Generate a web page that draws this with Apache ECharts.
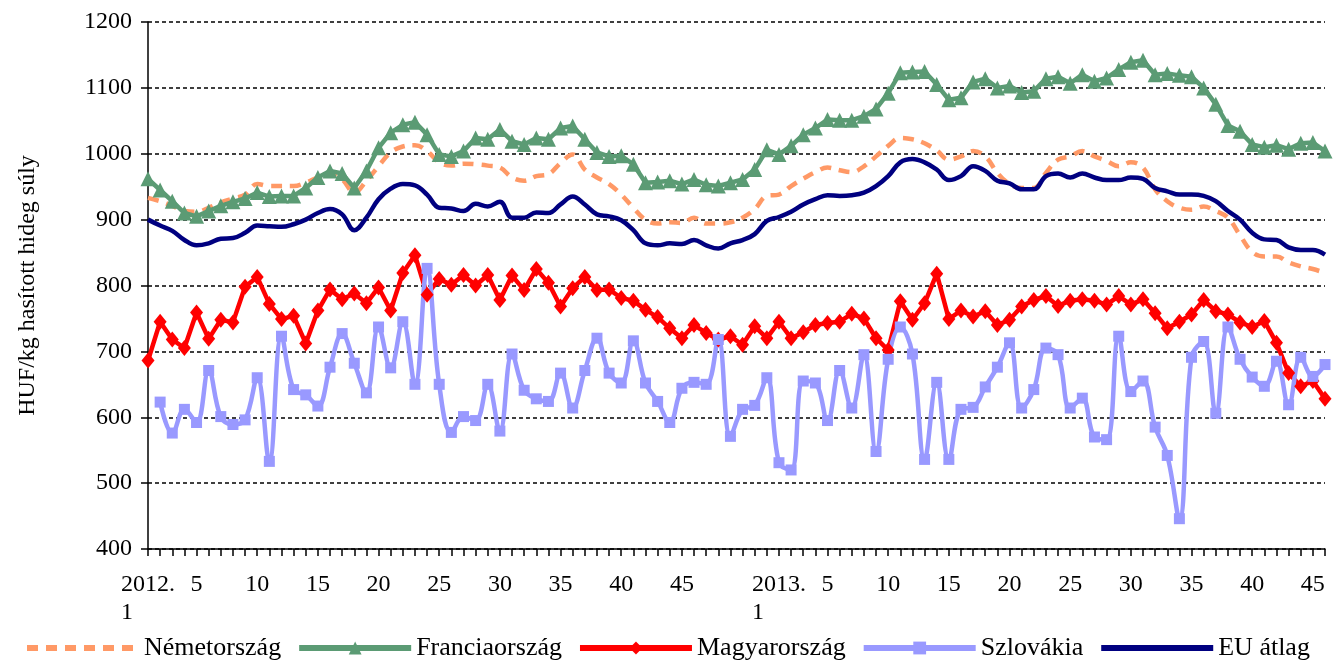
<!DOCTYPE html>
<html>
<head>
<meta charset="utf-8">
<script src="https://cdn.jsdelivr.net/npm/echarts@6/dist/echarts.min.js"></script>
<style>
html,body{margin:0;padding:0;background:#fff;}
#chart{width:1341px;height:662px;}
</style>
</head>
<body>
<div id="chart"></div>
<script>
// Categories: weeks of 2012 (1..52) and 2013 (1..46)
const years = ['2012', '2013'];
const weeksInYear = [52, 46];
const labelWeeks = [1, 5, 10, 15, 20, 25, 30, 35, 40, 45];
const yTicks = [400, 500, 600, 700, 800, 900, 1000, 1100, 1200];

const nemetorszag = [
  933, 928, 921, 913, 912, 918, 926, 932, 938, 954,
  951, 951, 951, 956, 964, 969, 961, 941, 959, 981,
  1002, 1011, 1013, 1004, 987, 982, 985, 984, 982, 979,
  964, 959, 966, 969, 986, 999, 976, 964, 954, 938,
  918, 900, 894, 896, 895, 903, 894, 894, 896, 903,
  916, 936, 938, 951, 962, 972, 979, 975, 972, 981,
  996, 1012, 1024, 1022, 1016, 1005, 991, 996, 1004, 996,
  971, 954, 948, 948, 971, 991, 996, 1004, 996, 989,
  981, 987, 979, 946, 928, 918, 915, 920, 913, 903,
  876, 851, 844, 844, 835, 829, 825, 819
];
const franciaorszag = [
  962, 945, 928, 910, 905, 913, 921, 927, 932, 941,
  935, 936, 936, 948, 964, 974, 970, 948, 974, 1009,
  1032, 1044, 1048, 1029, 999, 996, 1004, 1024, 1022, 1037,
  1019, 1014, 1024, 1022, 1039, 1042, 1022, 1002, 996, 997,
  984, 956, 957, 959, 954, 961, 953, 951, 956, 961,
  976, 1006, 999, 1012, 1029, 1039, 1052, 1051, 1051, 1057,
  1068, 1092, 1123, 1124, 1125, 1105, 1082, 1085, 1109, 1114,
  1100, 1103, 1093, 1095, 1114, 1117, 1107, 1120, 1110, 1115,
  1128, 1139, 1142, 1120, 1122, 1119, 1117, 1100, 1075, 1043,
  1034, 1014, 1010, 1013, 1007, 1016, 1017, 1004
];
const magyarorszag = [
  686, 745, 718, 705, 759, 719, 748, 744, 798, 813,
  772, 749, 754, 712, 762, 794, 779, 788, 773, 797,
  762, 819, 846, 786, 810, 801, 816, 800, 816, 778,
  815, 793, 825, 804, 768, 796, 813, 793, 794, 781,
  777, 763, 752, 735, 720, 740, 728, 718, 723, 710,
  738, 720, 745, 720, 729, 740, 743, 745, 757, 750,
  720, 702, 776, 748, 773, 818, 749, 762, 753, 761,
  740, 748, 768, 778, 784, 769, 777, 779, 777, 771,
  784, 771, 779, 758, 735, 745, 756, 778, 761, 756,
  744, 737, 746, 713, 667, 647, 655, 628
];
const szlovakia = [
  null, 623, 576, 612, 592, 671, 601, 589, 596, 660,
  533, 723, 642, 634, 617, 676, 727, 682, 637, 737,
  675, 745, 650, 826, 650, 577, 601, 595, 650, 579,
  696, 641, 628, 624, 667, 614, 671, 720, 667, 652,
  716, 652, 624, 592, 644, 653, 650, 718, 571, 612,
  618, 660, 531, 520, 655, 652, 595, 671, 614, 695,
  548, 688, 737, 696, 536, 653, 536, 612, 615, 646,
  676, 713, 614, 642, 705, 695, 614, 629, 570, 566,
  723, 639, 655, 585, 542, 446, 691, 715, 606, 737,
  688, 661, 647, 685, 619, 691, 662, 680
];
const euAtlag = [
  900, 891, 883, 869, 861, 864, 871, 872, 880, 891,
  890, 889, 893, 900, 910, 916, 908, 884, 903, 931,
  947, 954, 952, 938, 918, 917, 913, 924, 920, 927,
  903, 903, 911, 910, 923, 935, 923, 908, 905, 899,
  884, 864, 861, 864, 863, 869, 861, 856, 864, 869,
  878, 898, 904, 912, 923, 931, 937, 936, 937, 941,
  951, 966, 987, 992, 987, 976, 960, 966, 981, 974,
  959, 955, 946, 946, 966, 970, 964, 970, 964, 960,
  960, 964, 962, 948, 943, 938, 938, 936, 928, 913,
  900, 880, 870, 869, 858, 854, 854, 847
];

const categories = [];
const catYear = [];
const catWeek = [];
years.forEach((y, yi) => {
  for (let w = 1; w <= weeksInYear[yi]; w++) {
    categories.push(y + '. ' + w);
    catYear.push(y);
    catWeek.push(w);
  }
});

const FONT = "'Liberation Serif', 'Times New Roman', serif";
const chart = echarts.init(document.getElementById('chart'), null, {renderer: 'canvas'});
const noSym = {color: 'rgba(0,0,0,0)', borderColor: 'rgba(0,0,0,0)', borderWidth: 0};

chart.setOption({
  animation: false,
  backgroundColor: '#ffffff',
  textStyle: {fontFamily: FONT, color: '#000'},
  grid: {left: 148, right: 16, top: 22, bottom: 113, containLabel: false},
  legend: {
    bottom: 1,
    left: 24,
    padding: 0,
    itemWidth: 112,
    itemHeight: 16,
    itemGap: 15,
    textStyle: {fontFamily: FONT, fontSize: 26, color: '#000'},
    data: [
      {name: 'Németország', itemStyle: noSym, lineStyle: {width: 6, type: [11, 8]}},
      {name: 'Franciaország', lineStyle: {width: 6}},
      {name: 'Magyarország', lineStyle: {width: 6}},
      {name: 'Szlovákia', lineStyle: {width: 6}},
      {name: 'EU átlag', itemStyle: noSym, lineStyle: {width: 6}}
    ]
  },
  xAxis: {
    type: 'category',
    data: categories,
    boundaryGap: false,
    axisLine: {lineStyle: {color: '#000', width: 1.5}},
    axisTick: {show: true, interval: 0, length: 7, lineStyle: {color: '#000', width: 1.5}},
    splitLine: {show: false},
    axisLabel: {
      interval: 0,
      margin: 22,
      fontFamily: FONT,
      fontSize: 24,
      lineHeight: 28,
      color: '#000',
      formatter: function (val, idx) {
        const w = catWeek[idx];
        if (w === 1) return '{y|' + catYear[idx] + '.}\n{w|1}';
        if (labelWeeks.indexOf(w) >= 0) return String(w);
        return '';
      },
      rich: {
        y: {fontFamily: FONT, fontSize: 24, lineHeight: 28, color: '#000'},
        w: {fontFamily: FONT, fontSize: 24, lineHeight: 28, color: '#000', align: 'left'}
      }
    }
  },
  yAxis: {
    type: 'value',
    min: yTicks[0],
    max: yTicks[yTicks.length - 1],
    interval: 100,
    name: 'HUF/kg hasított hideg súly',
    nameLocation: 'middle',
    nameGap: 108,
    nameTextStyle: {fontFamily: FONT, fontSize: 24, color: '#000'},
    axisLine: {show: true, lineStyle: {color: '#000', width: 1.5}},
    axisTick: {show: true, length: 7, lineStyle: {color: '#000', width: 1.5}},
    axisLabel: {margin: 16, fontFamily: FONT, fontSize: 24, color: '#000',
      formatter: function (v) { return String(v); }},
    splitLine: {show: true, lineStyle: {color: '#000', width: 1.5, type: [4, 3]}}
  },
  series: [
    {
      name: 'Németország', type: 'line', data: nemetorszag,
      smooth: 0.4, symbol: 'none',
      lineStyle: {color: '#FF9966', width: 4.5, type: [11, 8]},
      itemStyle: {color: '#FF9966'}
    },
    {
      name: 'Franciaország', type: 'line', data: franciaorszag,
      smooth: false, symbol: 'triangle', symbolSize: 15, showSymbol: true,
      lineStyle: {color: '#5B9B74', width: 4.5},
      itemStyle: {color: '#5B9B74'}
    },
    {
      name: 'Magyarország', type: 'line', data: magyarorszag,
      smooth: false, symbol: 'diamond', symbolSize: [13, 16], showSymbol: true,
      lineStyle: {color: '#FF0000', width: 4.5},
      itemStyle: {color: '#FF0000'}
    },
    {
      name: 'Szlovákia', type: 'line', data: szlovakia,
      smooth: 0.4, symbol: 'rect', symbolSize: 11, showSymbol: true,
      lineStyle: {color: '#9999FF', width: 4.5},
      itemStyle: {color: '#9999FF'}
    },
    {
      name: 'EU átlag', type: 'line', data: euAtlag,
      smooth: 0.4, symbol: 'none',
      lineStyle: {color: '#000080', width: 4.5},
      itemStyle: {color: '#000080'}
    }
  ]
});
</script>
</body>
</html>
